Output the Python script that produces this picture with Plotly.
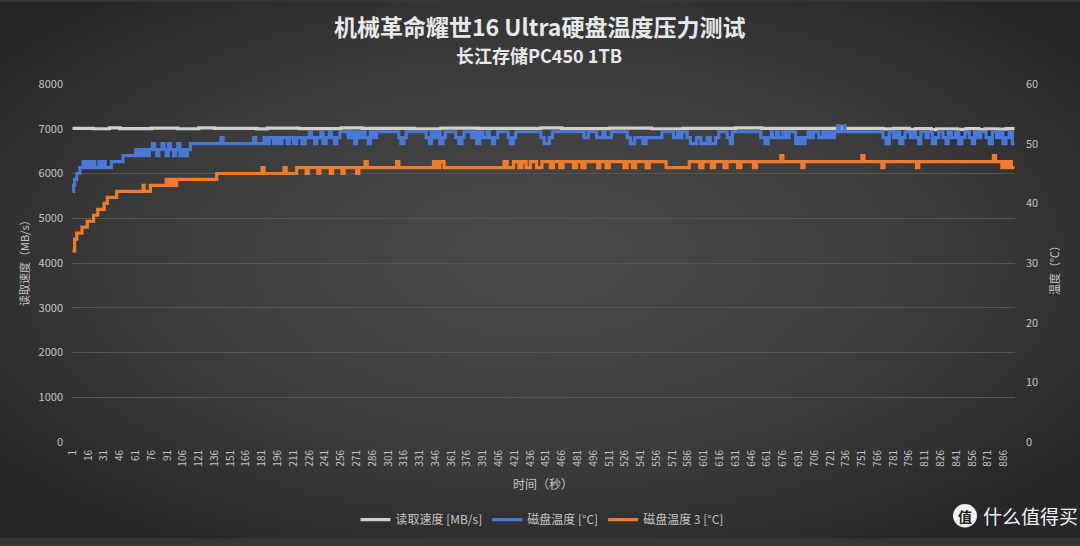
import base64
import plotly.graph_objects as go

# ---------------- data (run-length: (value, number of seconds)) ----------------
read_speed_runs = [
    (7010, 20), (7000, 15), (7020, 10), (7005, 30), (7015, 25), (7000, 20), (7020, 15),
    (7010, 40), (6995, 10), (7015, 30), (7005, 40), (7020, 20), (7010, 50), (7000, 25),
    (7015, 35), (7010, 60), (7020, 20), (7005, 45), (7015, 40), (7000, 30), (7010, 50),
    (7020, 25), (7010, 72), (7045, 3), (7010, 40), (6995, 10), (7010, 15), (6985, 6),
    (7005, 15), (6980, 5), (7000, 20), (6985, 8), (7005, 12), (6980, 6), (7000, 12),
    (6990, 8), (7005, 9),
]

disk_temp_runs = [
    (42, 1), (43, 1), (44, 2), (45, 3), (46, 3), (47, 2), (46, 3), (47, 1), (46, 3), (47, 2),
    (46, 4), (47, 1), (46, 3), (47, 2), (46, 6), (47, 11), (48, 12), (49, 1), (48, 3), (49, 2),
    (48, 3), (49, 2), (48, 2), (49, 3), (50, 2), (49, 2), (48, 2), (49, 3), (50, 2), (49, 2),
    (48, 2), (50, 2), (49, 3), (48, 2), (49, 2), (50, 2), (48, 2), (49, 3), (48, 2), (49, 3),
    (50, 29), (51, 2), (50, 29), (51, 2), (50, 8), (51, 3), (50, 2), (51, 4), (50, 2), (51, 3),
    (50, 3), (51, 5), (50, 2), (51, 4), (50, 3), (51, 5), (50, 3),
    (51, 4), (52, 2), (51, 3), (50, 2), (51, 4), (52, 2), (50, 3), (51, 3), (52, 2), (51, 3),
    (50, 2), (51, 3), (52, 4),
    (52, 4), (51, 3), (52, 3), (50, 2), (52, 3), (51, 2), (52, 3), (51, 3), (50, 2), (52, 3),
    (51, 3), (52, 21), (51, 2), (50, 3), (51, 2), (52, 19), (51, 3), (50, 2), (52, 3), (51, 3),
    (52, 2), (50, 3), (51, 2), (52, 10), (51, 3), (50, 3), (51, 2), (52, 7), (51, 3), (52, 2),
    (50, 3), (52, 3), (51, 4), (52, 2), (51, 3), (50, 2), (51, 3), (52, 10), (51, 2), (50, 3),
    (51, 2), (52, 24), (51, 3), (50, 5), (51, 3), (52, 30), (51, 4), (52, 8), (51, 6), (52, 2),
    (51, 6), (52, 15), (51, 3), (50, 4), (51, 8), (50, 3), (51, 15), (52, 11), (51, 4), (52, 2),
    (51, 2), (52, 5), (51, 3), (50, 6), (51, 4), (50, 6), (51, 3), (50, 5), (51, 3), (52, 8),
    (51, 3), (50, 2), (52, 27), (51, 4), (50, 3), (51, 3), (52, 1), (51, 4), (52, 2), (51, 4),
    (52, 3), (51, 3), (52, 6), (50, 3), (51, 3), (50, 3), (51, 3), (52, 3), (51, 2), (52, 5),
    (51, 4), (52, 3), (51, 3), (52, 2), (51, 3), (52, 3), (53, 2), (52, 4), (53, 1), (52, 36),
    (51, 3), (50, 3), (52, 4), (51, 3), (52, 3), (50, 3), (51, 2), (52, 5), (51, 3), (52, 2),
    (51, 3), (50, 2), (52, 5), (51, 2), (52, 4), (50, 3), (51, 3), (52, 4), (51, 3), (50, 2),
    (52, 3), (51, 4), (52, 3), (50, 3), (51, 3), (52, 4), (51, 3), (50, 2), (52, 3), (51, 3),
    (52, 5), (51, 3), (50, 3), (52, 4), (51, 3), (52, 3), (50, 3), (51, 3), (52, 3), (50, 3),
]

disk_temp3_runs = [
    (32, 2), (34, 2), (35, 5), (36, 5), (37, 6), (38, 4), (39, 6), (40, 3), (41, 9), (42, 25),
    (43, 1), (42, 6), (43, 15), (44, 3), (43, 2), (44, 3), (43, 2), (44, 38), (45, 43), (46, 2),
    (45, 19), (46, 2), (45, 10), (46, 9), (45, 2), (46, 9), (45, 2), (46, 10), (45, 2), (46, 9),
    (45, 2), (46, 12), (45, 2), (46, 6), (47, 2), (46, 28), (47, 2), (46, 33), (47, 3), (46, 3),
    (47, 4), (46, 57), (47, 3), (46, 6), (47, 5), (46, 3), (47, 4), (46, 4), (47, 6), (46, 5),
    (47, 8), (46, 3), (47, 6), (46, 3), (47, 10), (46, 3), (47, 5), (46, 3), (47, 12), (46, 2),
    (47, 6), (46, 3), (47, 14), (46, 3), (47, 5), (46, 3), (47, 10), (46, 3), (47, 16), (46, 22),
    (47, 10), (46, 3), (47, 8), (46, 3), (47, 9), (46, 3), (47, 10), (46, 3), (47, 12), (46, 3),
    (47, 12), (47, 11), (48, 2), (47, 18), (46, 2), (47, 55), (48, 2), (47, 17), (46, 2), (47, 31),
    (46, 2), (47, 71), (48, 2), (47, 6), (46, 2), (47, 3), (46, 2), (47, 2), (46, 4),
]

series_names = ["读取速度 [MB/s]", "磁盘温度 [°C]", "磁盘温度 3 [°C]"]
x_tick_values = list(range(1, 887, 15))
title_text = "机械革命耀世16 Ultra硬盘温度压力测试"
subtitle_text = "长江存储PC450 1TB"


def expand(runs):
    out = []
    for value, count in runs:
        out.extend([value] * count)
    return out


read_speed = expand(read_speed_runs)
disk_temp = expand(disk_temp_runs)
disk_temp3 = expand(disk_temp3_runs)

# ---------------- geometry helpers (pixel -> paper) ----------------
L, R, T, B = 72, 1015, 84, 448
W, H = 1080, 546


def px(x):
    return (x - L) / (R - L)


def py(y):
    return (B - y) / (B - T)


FONT = "Noto Sans CJK SC"
TXT = "#c4c4c4"

fig = go.Figure()
fig.add_trace(go.Scatter(x=list(range(1, len(read_speed) + 1)), y=read_speed, mode="lines",
                         name=series_names[0], line=dict(color="#d0d0d0", width=3.2, shape="hv"),
                         yaxis="y"))
fig.add_trace(go.Scatter(x=list(range(1, len(disk_temp) + 1)), y=disk_temp, mode="lines",
                         name=series_names[1], line=dict(color="#4a78d6", width=3.2, shape="hv"),
                         yaxis="y2"))
fig.add_trace(go.Scatter(x=list(range(1, len(disk_temp3) + 1)), y=disk_temp3, mode="lines",
                         name=series_names[2], line=dict(color="#f07b2a", width=3.2, shape="hv"),
                         yaxis="y2"))

svg = f'''<svg xmlns="http://www.w3.org/2000/svg" width="{W}" height="{H}">
<defs><radialGradient id="g" cx="50%" cy="48%" r="62%">
<stop offset="0%" stop-color="#4a4a4a"/><stop offset="60%" stop-color="#3c3c3c"/>
<stop offset="100%" stop-color="#272727"/></radialGradient></defs>
<rect width="{W}" height="{H}" fill="url(#g)"/></svg>'''
bg_uri = "data:image/svg+xml;base64," + base64.b64encode(svg.encode()).decode()

fig.update_layout(
    width=W, height=H,
    margin=dict(l=L, r=W - R, t=T, b=H - B),
    paper_bgcolor="#363636", plot_bgcolor="rgba(0,0,0,0)",
    font=dict(family=FONT, color=TXT, size=11),
    showlegend=True,
    legend=dict(orientation="h", x=px(542), xanchor="center", y=py(527), yanchor="middle",
                font=dict(size=12, color=TXT), itemwidth=30, bgcolor="rgba(0,0,0,0)"),
    xaxis=dict(range=[0.5, 896.5], tickmode="array", tickvals=x_tick_values,
               ticktext=[str(v) for v in x_tick_values], tickangle=-90,
               tickfont=dict(size=10, color=TXT), showgrid=False, zeroline=False,
               showline=False, ticks="", ticklabelstandoff=5),
    yaxis=dict(range=[0, 8000], dtick=1000, tickfont=dict(size=11, color=TXT),
               gridcolor="#555555", gridwidth=1, zeroline=False, showline=False, ticks="",
               ticklabelstandoff=8),
    yaxis2=dict(range=[0, 60], dtick=10, overlaying="y", side="right",
                tickfont=dict(size=11, color=TXT), showgrid=False, zeroline=False,
                showline=False, ticks="", ticklabelstandoff=10),
    images=[dict(source=bg_uri, xref="paper", yref="paper", x=px(0), y=py(0),
                 sizex=W / (R - L), sizey=H / (B - T), xanchor="left", yanchor="top",
                 sizing="stretch", layer="below")],
    annotations=[
        dict(text=f"<b>{title_text}</b>", x=px(539), y=py(25), xref="paper", yref="paper",
             showarrow=False, font=dict(size=23, color="#e8e8e8", family=FONT),
             xanchor="center", yanchor="middle"),
        dict(text=f"<b>{subtitle_text}</b>", x=px(539), y=py(55), xref="paper", yref="paper",
             showarrow=False, font=dict(size=18, color="#e8e8e8", family=FONT),
             xanchor="center", yanchor="middle"),
        dict(text="读取速度（MB/s）", x=px(24), y=py(263), xref="paper", yref="paper",
             showarrow=False, textangle=-90, font=dict(size=11, color=TXT),
             xanchor="center", yanchor="middle"),
        dict(text="温度（℃）", x=px(1054), y=py(271), xref="paper", yref="paper",
             showarrow=False, textangle=-90, font=dict(size=11, color=TXT),
             xanchor="center", yanchor="middle"),
        dict(text="时间（秒）", x=px(543), y=py(490), xref="paper", yref="paper",
             showarrow=False, font=dict(size=12, color=TXT),
             xanchor="center", yanchor="middle"),
        dict(text="<b>值</b>", x=px(965), y=py(523), xref="paper", yref="paper",
             showarrow=False, font=dict(size=14, color="#222222", family=FONT),
             xanchor="center", yanchor="middle"),
        dict(text="什么值得买", x=px(981), y=py(523), xref="paper", yref="paper",
             showarrow=False, font=dict(size=19, color="#f2f2f2", family=FONT),
             xanchor="left", yanchor="middle"),
    ],
    shapes=[dict(type="circle", xref="paper", yref="paper", x0=px(953), x1=px(977),
                 y0=py(511), y1=py(535), fillcolor="#f2f2f2", line=dict(width=0))],
)

fig.write_html("out.html")
